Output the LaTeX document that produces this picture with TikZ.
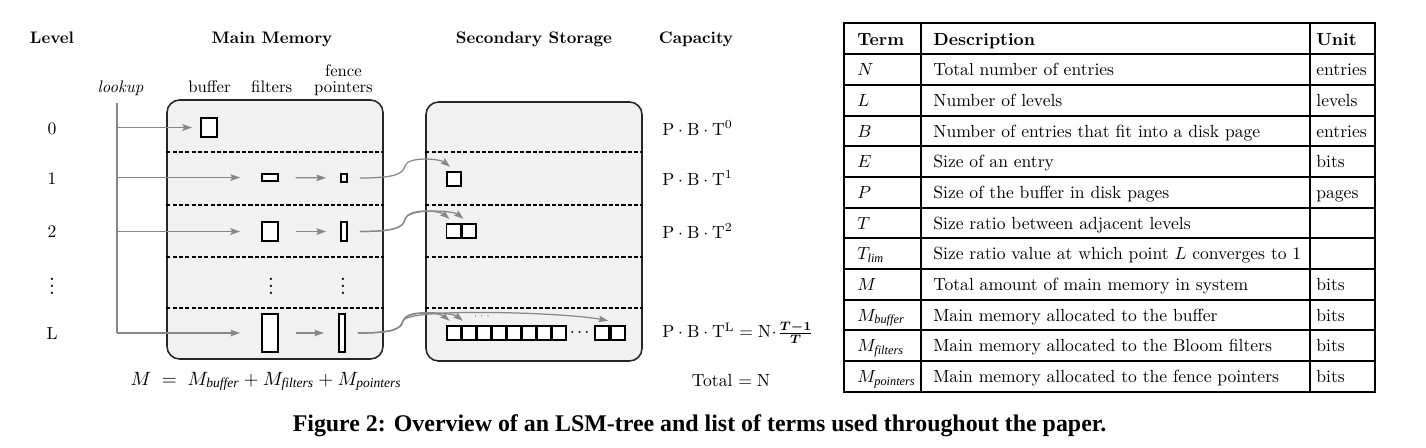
\documentclass[tikz,border=0pt]{standalone}
\usepackage{amsmath,amssymb}
\usepackage{fontspec}
\usepackage{tikz}
\usetikzlibrary{arrows.meta,positioning,calc}
\newfontfamily\captionfont{Liberation Serif}
\newcommand\subtxt[1]{\text{\captionfont\itshape #1}}
\definecolor{panelgray}{RGB}{241,241,241}
\definecolor{linkgray}{RGB}{135,135,135}

\begin{document}
\begin{tikzpicture}[
      x=0.02cm, y=-0.02cm,
      >={Stealth[length=5.5pt,width=3.8pt,inset=1pt]},
      panel/.style={draw=black!85, line width=0.9pt, fill=panelgray,
        rounded corners=0.25cm, inner sep=0pt},
      sep line/.style={dash pattern=on 2.4pt off 1.2pt, line width=0.6pt},
      memblock/.style={draw, line width=1.1pt, fill=white, inner sep=0pt},
      diskpage/.style={draw, line width=1.1pt, fill=white, inner sep=0pt,
        minimum width=0.28cm, minimum height=0.29cm},
      link/.style={->, linkgray, line width=0.7pt},
      hop/.style={link, shorten <=9.5pt, shorten >=8pt},
      colhead/.style={font=\fontsize{9.5}{11}\selectfont\bfseries, anchor=base},
      sublabel/.style={font=\fontsize{9.5}{9}\selectfont, anchor=base, align=center},
      capacity/.style={font=\fontsize{10}{12}\selectfont, anchor=base west, inner sep=0pt},
      smalldots/.style={font=\fontsize{8}{9}\selectfont\bfseries, inner sep=0pt},
      rule/.style={line width=1.2pt},
      cell/.style={font=\fontsize{10}{12}\selectfont, anchor=base west, inner sep=0pt},
  ]
      \useasboundingbox (0,0) rectangle (1426,447);

      % Column headings
      \node[colhead] (hlevel) at (52,43.3) {Level};
      \node[colhead] (hmain) at (272,43.3) {Main Memory};
      \node[colhead] (hsec) at (534,43.3) {Secondary Storage};
      \node[colhead] (hcap) at (696,43.3) {Capacity};

      \node[sublabel] (hlookup) at (120.5,92.7) {\textit{lookup}};
      \node[sublabel] (hbuffer) at (209.5,92.7) {buffer};
      \node[sublabel] (hfilters) at (271.7,92.7) {filters};
      \node[sublabel, anchor=south, inner sep=0pt] (hfence) at (343.5,96) {fence\\pointers};

      % Panels
      \node[panel, minimum width=4.32cm, minimum height=5.18cm] (mem) at (275,229.5) {};
      \node[panel, minimum width=4.32cm, minimum height=5.18cm] (disk) at (534,231.5) {};
      \foreach \yy in {152,205,257,308} {
          \draw[sep line] (mem.west |- 0,\yy) -- (mem.east |- 0,\yy);
          \draw[sep line] (disk.west |- 0,\yy) -- (disk.east |- 0,\yy);
      }

      % Levels
      \node[font=\fontsize{10}{12}\selectfont] (lv0) at (52,128.5) {0};
      \node[font=\fontsize{10}{12}\selectfont] (lv1) at (52,178.5) {1};
      \node[font=\fontsize{10}{12}\selectfont] (lv2) at (52,232) {2};
      \node[smalldots] (lvd) at (52,281) {\vdots};
      \node[font=\fontsize{10}{12}\selectfont] (lvL) at (52,333) {L};

      % Main memory contents
      \node[memblock, minimum width=0.32cm, minimum height=0.38cm] (buf0) at (209,127.5) {};
      \node[memblock, minimum width=0.32cm, minimum height=0.14cm] (flt1) at (270,177.5) {};
      \node[memblock, minimum width=0.12cm, minimum height=0.16cm] (fp1) at (344,178) {};
      \node[memblock, minimum width=0.32cm, minimum height=0.38cm] (flt2) at (270,231.5) {};
      \node[memblock, minimum width=0.12cm, minimum height=0.38cm] (fp2) at (344,231.5) {};
      \node[smalldots] (fltd) at (271,281) {\vdots};
      \node[smalldots] (fpd) at (343,281) {\vdots};
      \node[memblock, minimum width=0.32cm, minimum height=0.76cm] (fltL) at (270,333) {};
      \node[memblock, minimum width=0.12cm, minimum height=0.76cm] (fpL) at (342,333) {};

      % Lookup path
      \coordinate (lk) at (117,103);
      \draw[linkgray, line width=0.7pt] (lk) -- (lk |- fltL);
      \draw[link] (lk |- buf0) -- ([xshift=-0.16cm]buf0.west);
      \draw[link] (lk |- flt1) -- ([xshift=-0.42cm]flt1.west);
      \draw[link] (lk |- flt2) -- ([xshift=-0.42cm]flt2.west);
      \draw[link] (lk |- fltL) -- ([xshift=-0.42cm]fltL.west);
      \draw[hop] (flt1) -- (fp1);
      \draw[hop] (flt2) -- (fp2);
      \draw[hop] (fltL) -- (fpL);

      % Secondary storage pages
      \node[diskpage] (s1) at (454,179) {};
      \node[diskpage] (s2a) at (453.5,231) {};
      \node[diskpage, right=0pt of s2a] (s2b) {};
      \foreach \i in {1,...,8}
          \node[diskpage] (sL\i) at ({453.6+(\i-1)*15.12},333) {};
      \node[font=\fontsize{7}{8}\selectfont\boldmath, inner sep=0pt] (sLdots) at (581,332) {$\cdots$};
      \node[font=\fontsize{5}{6}\selectfont, inner sep=0pt, black!80] (sLtop) at (483,316) {$\cdots$};
      \node[diskpage] (sLy) at (601.75,333) {};
      \node[diskpage, right=0pt of sLy] (sLz) {};

      % Fence pointers to pages
      \draw[link] ([xshift=0.24cm]fp1.east) .. controls +(35,0) and +(-2,8) .. ++(45,-12)
          .. controls +(3,-10) and +(-10,-8) .. ([shift={(4,-4)}]s1.north west);
      \draw[link] ([xshift=0.24cm]fp2.east) .. controls +(35,0) and +(-2,8) .. ++(45,-12)
          .. controls +(3,-12) and +(-10,-8) .. ([shift={(4,-4)}]s2a.north west);
      \draw[link] ([xshift=0.24cm]fp2.east) .. controls +(35,0) and +(-2,8) .. ++(45,-12)
          .. controls +(3,-12) and +(-10,-8) .. ([shift={(2,-4)}]s2b.north west);
      \draw[link] ([xshift=0.24cm]fpL.east) .. controls +(35,0) and +(-2,8) .. ++(45,-12)
          .. controls +(3,-12) and +(-10,-8) .. ([shift={(4,-4)}]sL1.north west);
      \draw[link] ([xshift=0.24cm]fpL.east) .. controls +(35,0) and +(-2,8) .. ++(45,-12)
          .. controls +(3,-12) and +(-10,-8) .. ([shift={(2,-4)}]sL2.north west);
      \draw[link] ([xshift=0.24cm]fpL.east) .. controls +(35,0) and +(-2,8) .. ++(45,-12)
          .. controls +(5,-14) and +(-40,-8) .. ([shift={(-1.5,-4)}]sLy.north east);

      % Capacity
      \node[capacity] (c0) at (662,135) {$\mathrm{P\cdot B\cdot T^0}$};
      \node[capacity] (c1) at (662,185) {$\mathrm{P\cdot B\cdot T^1}$};
      \node[capacity] (c2) at (662,238.3) {$\mathrm{P\cdot B\cdot T^2}$};
      \node[capacity] (cL) at (662,337.7) {$\mathrm{P\cdot B\cdot T^L = N}\!\cdot\!\frac{\boldsymbol{T-1}}{\boldsymbol{T}}$};
      \node[capacity, anchor=base] (ctot) at (731,386.7) {Total $=\mathrm{N}$};

      % Memory budget
      \node[font=\fontsize{11}{13}\selectfont, anchor=base] (budget) at (266,385)
          {$M \;=\; M_{\subtxt{buffer}} + M_{\subtxt{filters}} + M_{\subtxt{pointers}}$};

      % Table of terms
      \draw[rule] (844,23.3) rectangle (1375,391.7);
      \foreach \k in {0,...,10}
          \draw[rule] (844,{54.3+30.67*\k}) -- (1375,{54.3+30.67*\k});
      \foreach \xx in {921,1310}
          \draw[rule] (\xx,23.3) -- (\xx,391.7);
      \node[cell, font=\fontsize{10}{12}\selectfont\bfseries] (tterm) at (857,45) {Term};
      \node[cell, font=\fontsize{10}{12}\selectfont\bfseries] (tdesc) at (933,45) {Description};
      \node[cell, font=\fontsize{10}{12}\selectfont\bfseries] (tunit) at (1316,45) {Unit};
      \foreach \t/\d/\u [count=\i from 0] in {
          {$N$}/{Total number of entries}/{entries},
          {$L$}/{Number of levels}/{levels},
          {$B$}/{Number of entries that fit into a disk page}/{entries},
          {$E$}/{Size of an entry}/{bits},
          {$P$}/{Size of the buffer in disk pages}/{pages},
          {$T$}/{Size ratio between adjacent levels}/{},
          {$T_{\subtxt{lim}}$}/{Size ratio value at which point $L$ converges to 1}/{},
          {$M$}/{Total amount of main memory in system}/{bits},
          {$M_{\subtxt{buffer}}$}/{Main memory allocated to the buffer}/{bits},
          {$M_{\subtxt{filters}}$}/{Main memory allocated to the Bloom filters}/{bits},
          {$M_{\subtxt{pointers}}$}/{Main memory allocated to the fence pointers}/{bits}} {
          \node[cell] (term\i) at (857,{75.9+30.67*\i}) {\t};
          \node[cell] (desc\i) at (933,{75.9+30.67*\i}) {\d};
          \node[cell] (unit\i) at (1316,{75.9+30.67*\i}) {\u};
      }

      % Caption
      \node[font=\captionfont\bfseries\fontsize{13.6}{16}\selectfont, anchor=base] (caption)
          at (699.5,431) {Figure 2: Overview of an LSM-tree and list of terms used throughout the paper.};

  \end{tikzpicture}
\end{document}
